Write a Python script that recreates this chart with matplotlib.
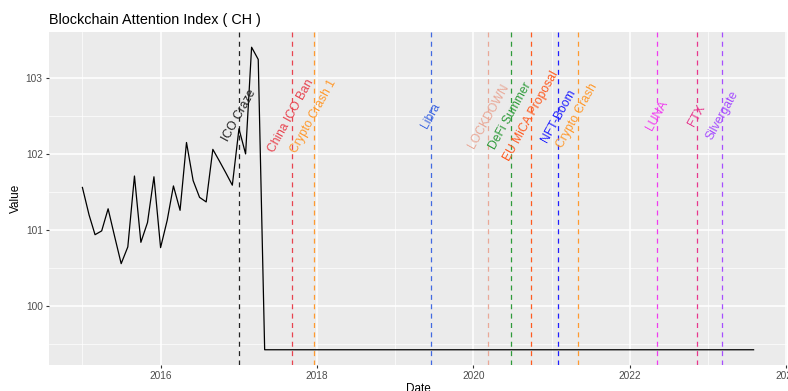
import matplotlib
matplotlib.use("Agg")
import matplotlib.pyplot as plt
import matplotlib.dates as mdates
import pandas as pd

plt.rcParams['font.family'] = ['Liberation Sans', 'DejaVu Sans']

# monthly index values, Jan 2015 .. May 2017, then flat to Aug 2023
dates = list(pd.date_range('2015-01-01', '2017-05-01', freq='MS')) + [pd.Timestamp('2023-08-01')]
values = [101.56, 101.20, 100.94, 100.99, 101.28, 100.91, 100.56, 100.78, 101.71, 100.84,
          101.10, 101.70, 100.77, 101.13, 101.58, 101.26, 102.15, 101.65, 101.43, 101.37,
          102.06, 101.91, 101.75, 101.59, 102.33, 102.00, 103.40, 103.24, 99.43, 99.43]

events = ['ICO Craze', 'China ICO Ban', 'Crypto Crash 1', 'Libra', 'LOCKDOWN', 'DeFi Summer',
          'EU MiCA Proposal', 'NFT-Boom', 'Crypto Crash', 'LUNA', 'FTX', 'Silvergate']
event_dates = ['2017-01-01', '2017-09-04', '2017-12-17', '2019-06-18', '2020-03-11', '2020-06-24',
               '2020-09-24', '2021-02-01', '2021-05-01', '2022-05-08', '2022-11-08', '2023-03-08']
event_colors = ['#222222', '#E8434F', '#FF9A2E', '#4169E1', '#E9A897', '#2E9B3A',
                '#FF5A1F', '#1E1EFF', '#FF9A2E', '#F03CF0', '#E8368C', '#A64DFF']
label_y = 102.5

fig = plt.figure(figsize=(7.88, 3.91), dpi=100)
ax = fig.add_axes([49/788, 26/391, 738/788, 333/391])
ax.set_facecolor('#EBEBEB')

ax.plot(pd.to_datetime(dates), values, color='black', lw=0.9, zorder=3)

for name, d, c in zip(events, event_dates, event_colors):
    d = pd.Timestamp(d)
    ax.axvline(d, color=c, lw=0.9, linestyle=(0, (4, 3.5)), zorder=2)
    ax.text(d, label_y, name, color=c, rotation=61, ha='center', va='center',
            fontsize=8.7, rotation_mode='anchor', zorder=4)

ax.set_xlim(pd.Timestamp('2014-07-29'), pd.Timestamp('2024-01-04'))
ax.set_ylim(99.23, 103.6)

ax.xaxis.set_major_locator(mdates.YearLocator(2))
ax.xaxis.set_major_formatter(mdates.DateFormatter('%Y'))
ax.set_xticks([pd.Timestamp(f'{y}-01-01') for y in [2015, 2017, 2019, 2021, 2023]], minor=True)
ax.set_yticks([100, 101, 102, 103])
ax.set_yticks([99.5, 100.5, 101.5, 102.5], minor=True)

ax.grid(which='major', color='white', lw=1.1)
ax.grid(which='minor', color='white', lw=0.5)
ax.set_axisbelow(True)
for s in ax.spines.values():
    s.set_visible(False)
ax.tick_params(which='major', length=2.5, width=0.8, color='#333333', labelcolor='#4D4D4D',
               labelsize=7.3, pad=2)
ax.tick_params(which='minor', length=0)

ax.set_xlabel('Date', fontsize=8.5, labelpad=1)
ax.set_ylabel('Value', fontsize=8.5, labelpad=3)
ax.set_title('Blockchain Attention Index ( CH )', loc='left', fontsize=10.4, pad=6)

fig.savefig('out.png', dpi=100)
